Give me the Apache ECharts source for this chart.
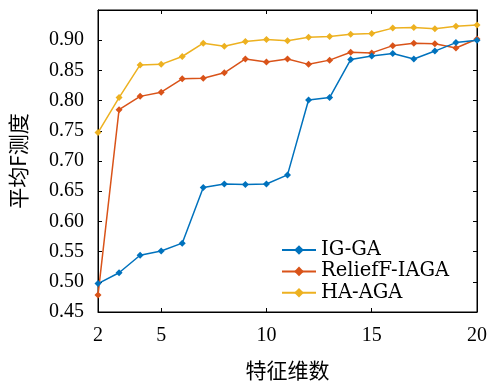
<!DOCTYPE html>
<html><head><meta charset="utf-8">
<script src="https://cdn.jsdelivr.net/npm/echarts@6/dist/echarts.min.js"></script>
<style>html,body{margin:0;padding:0;background:#fff}#c{width:488px;height:383px}</style>
</head><body><div id="c"></div>
<script>
var dims = [2,3,4,5,6,7,8,9,10,11,12,13,14,15,16,17,18,19,20];
var igGA = [0.497,0.515,0.544,0.551,0.564,0.656,0.662,0.661,0.662,0.677,0.801,0.805,0.868,0.874,0.878,0.869,0.882,0.896,0.900];
var reliefF = [0.478,0.785,0.807,0.814,0.836,0.837,0.846,0.869,0.864,0.869,0.860,0.867,0.880,0.879,0.891,0.895,0.894,0.887,0.902];
var haAGA = [0.747,0.805,0.859,0.860,0.873,0.895,0.890,0.898,0.901,0.899,0.905,0.906,0.910,0.911,0.920,0.921,0.919,0.923,0.925];
var xTicks = [2,5,10,15,20];
var seriesNames = ['IG-GA','ReliefF-IAGA','HA-AGA'];
var colors = ['#0072BD','#D95319','#EDB120'];

var font = 'Liberation Serif';
function pairs(arr){return dims.map(function(d,i){return [d,arr[i]];});}
var chart = echarts.init(document.getElementById('c'));
var tick = {show:true,inside:true,length:4,lineStyle:{color:'#000'}};
var line = {show:true,onZero:false,lineStyle:{color:'#000',width:1}};
chart.setOption({
  animation:false,
  color:colors,
  grid:{left:98,right:11,top:10,bottom:71,show:true,borderColor:'#000',borderWidth:1,backgroundColor:'transparent',outerBoundsMode:'none',containLabel:false},
  legend:{orient:'vertical',left:276,top:235,itemWidth:34,itemHeight:12,itemGap:1.4,
    textStyle:{fontFamily:'DejaVu Serif',fontSize:19.5,color:'#000'},data:seriesNames},
  xAxis:[{type:'value',min:2,max:20,name:'特征维数',nameLocation:'middle',nameGap:48,
    nameTextStyle:{fontFamily:'Noto Sans CJK SC',fontSize:21,color:'#000'},
    axisLine:line,
    axisTick:Object.assign({customValues:xTicks},tick),
    axisLabel:{customValues:xTicks,fontFamily:font,fontSize:20,color:'#000',margin:14},
    splitLine:{show:false}},
   {type:'value',min:2,max:20,position:'top',axisLine:line,
    axisTick:Object.assign({customValues:xTicks},tick),axisLabel:{show:false},splitLine:{show:false}}],
  yAxis:[{type:'value',min:0.45,max:0.95,interval:0.05,name:'平均F测度',nameLocation:'middle',nameGap:69,
    nameTextStyle:{fontFamily:'Noto Sans CJK SC',fontSize:21,color:'#000'},
    axisLine:line,axisTick:tick,
    axisLabel:{fontFamily:font,fontSize:20,color:'#000',margin:14,
      formatter:function(v){return v>0.94?'':v.toFixed(2);}},
    splitLine:{show:false}},
   {type:'value',min:0.45,max:0.95,interval:0.05,position:'right',axisLine:line,
    axisTick:tick,axisLabel:{show:false},splitLine:{show:false}}],
  series:[igGA,reliefF,haAGA].map(function(arr,i){
    return {name:seriesNames[i],type:'line',data:pairs(arr),symbol:'diamond',symbolSize:7,
      lineStyle:{width:1.5,color:colors[i]},itemStyle:{color:colors[i]},z:3+(2-i)};
  })
});
</script></body></html>
